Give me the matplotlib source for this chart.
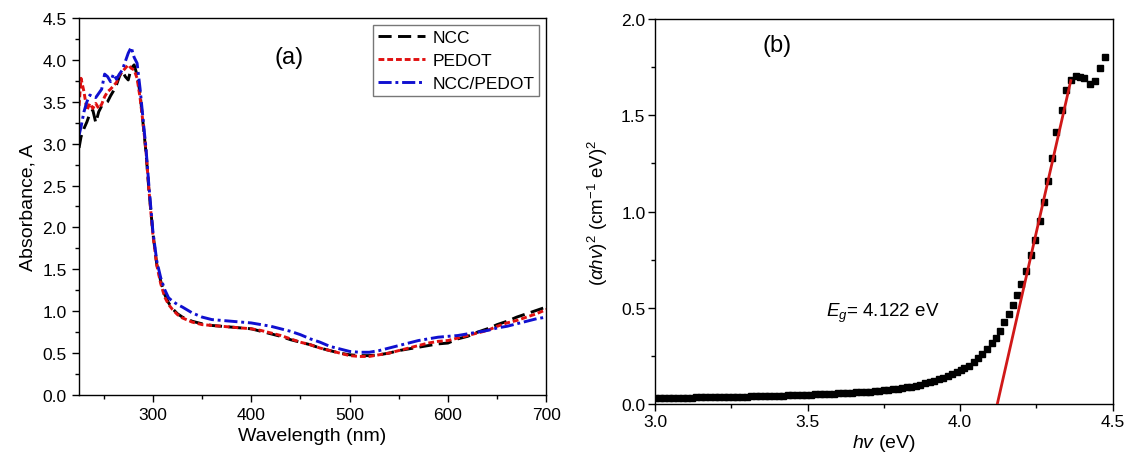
import matplotlib.pyplot as plt
from matplotlib.ticker import MultipleLocator

plt.rcParams['font.family'] = ['Liberation Sans', 'DejaVu Sans']
plt.rcParams['mathtext.fontset'] = 'custom'
plt.rcParams['mathtext.rm'] = 'Liberation Sans'
plt.rcParams['mathtext.it'] = 'Liberation Sans:italic'

# (a) UV-vis absorbance
wavelength = [225, 227, 230, 233, 236, 239, 242, 245, 248, 251, 254, 257, 260, 263,
              266, 269, 272, 275, 278, 281, 284, 287, 290, 293, 296, 300, 304, 308,
              312, 316, 320, 325, 330, 340, 350, 360, 370, 380, 390, 400, 410, 420,
              430, 440, 450, 460, 470, 480, 490, 500, 510, 520, 530, 540, 550, 560,
              570, 580, 590, 600, 610, 620, 630, 640, 650, 660, 670, 680, 690, 700]
abs_ncc = [2.95, 3.08, 3.18, 3.26, 3.36, 3.40, 3.25, 3.38, 3.45, 3.47, 3.50, 3.57, 3.63, 3.70,
           3.80, 3.87, 3.80, 3.76, 3.90, 3.94, 3.82, 3.60, 3.25, 2.90, 2.45, 1.94, 1.56, 1.36,
           1.20, 1.10, 1.03, 0.97, 0.93, 0.88, 0.85, 0.83, 0.82, 0.81, 0.80, 0.79, 0.76, 0.73,
           0.70, 0.66, 0.63, 0.60, 0.56, 0.53, 0.50, 0.48, 0.47, 0.47, 0.48, 0.50, 0.53, 0.55,
           0.57, 0.59, 0.61, 0.62, 0.67, 0.70, 0.75, 0.79, 0.84, 0.88, 0.93, 0.97, 1.01, 1.05]
abs_pedot = [3.45, 3.78, 3.62, 3.40, 3.48, 3.42, 3.48, 3.42, 3.47, 3.56, 3.62, 3.65, 3.69, 3.73,
             3.82, 3.86, 3.90, 3.94, 3.90, 3.88, 3.78, 3.55, 3.25, 2.92, 2.45, 1.92, 1.55, 1.33,
             1.17, 1.08, 1.02, 0.96, 0.92, 0.87, 0.84, 0.83, 0.82, 0.81, 0.80, 0.79, 0.77, 0.74,
             0.71, 0.67, 0.63, 0.60, 0.56, 0.53, 0.50, 0.47, 0.46, 0.46, 0.48, 0.50, 0.53, 0.56,
             0.59, 0.62, 0.64, 0.65, 0.68, 0.71, 0.74, 0.77, 0.82, 0.86, 0.89, 0.93, 0.97, 1.02]
abs_blend = [3.10, 3.20, 3.38, 3.50, 3.58, 3.56, 3.55, 3.60, 3.65, 3.83, 3.80, 3.74, 3.83, 3.77,
             3.83, 3.88, 3.98, 4.08, 4.15, 4.03, 3.96, 3.66, 3.30, 2.95, 2.50, 1.96, 1.60, 1.40,
             1.26, 1.16, 1.12, 1.08, 1.05, 0.98, 0.93, 0.90, 0.89, 0.88, 0.87, 0.86, 0.84, 0.82,
             0.79, 0.76, 0.72, 0.67, 0.63, 0.58, 0.55, 0.52, 0.51, 0.51, 0.53, 0.56, 0.59, 0.62,
             0.65, 0.67, 0.69, 0.70, 0.71, 0.73, 0.75, 0.77, 0.80, 0.82, 0.85, 0.88, 0.91, 0.93]

# (b) Tauc plot
energy = [3.000, 3.015, 3.030, 3.045, 3.060, 3.075, 3.090, 3.105, 3.120, 3.135, 3.150,
          3.165, 3.180, 3.195, 3.210, 3.225, 3.240, 3.255, 3.270, 3.285, 3.300, 3.315,
          3.330, 3.345, 3.360, 3.375, 3.390, 3.405, 3.420, 3.435, 3.450, 3.465, 3.480,
          3.495, 3.510, 3.525, 3.540, 3.555, 3.570, 3.585, 3.600, 3.615, 3.630, 3.645,
          3.660, 3.675, 3.690, 3.705, 3.720, 3.735, 3.750, 3.765, 3.780, 3.795, 3.810,
          3.825, 3.840, 3.855, 3.870, 3.885, 3.900, 3.915, 3.930, 3.945, 3.960, 3.975,
          3.990, 4.003, 4.014, 4.029, 4.044, 4.059, 4.073, 4.087, 4.103, 4.117, 4.130,
          4.144, 4.159, 4.173, 4.188, 4.201, 4.217, 4.231, 4.246, 4.261, 4.275, 4.289,
          4.302, 4.316, 4.333, 4.348, 4.363, 4.379, 4.393, 4.407, 4.426, 4.443, 4.459, 4.474]
tauc = [0.030, 0.030, 0.031, 0.031, 0.031, 0.032, 0.032, 0.033, 0.033, 0.034, 0.034,
        0.035, 0.035, 0.036, 0.036, 0.037, 0.037, 0.038, 0.038, 0.039, 0.039, 0.040,
        0.040, 0.041, 0.041, 0.042, 0.043, 0.043, 0.044, 0.045, 0.045, 0.046, 0.047,
        0.048, 0.049, 0.050, 0.051, 0.052, 0.053, 0.054, 0.055, 0.056, 0.057, 0.059,
        0.060, 0.062, 0.063, 0.065, 0.067, 0.069, 0.071, 0.074, 0.077, 0.080, 0.083,
        0.087, 0.091, 0.096, 0.101, 0.107, 0.113, 0.120, 0.128, 0.136, 0.146, 0.156,
        0.165, 0.175, 0.185, 0.199, 0.216, 0.237, 0.260, 0.286, 0.317, 0.345, 0.381,
        0.424, 0.468, 0.514, 0.566, 0.623, 0.693, 0.774, 0.854, 0.952, 1.051, 1.160,
        1.278, 1.415, 1.529, 1.633, 1.685, 1.705, 1.697, 1.692, 1.662, 1.679, 1.745, 1.804]
fit_x = [4.122, 4.363]
fit_y = [0.0, 1.68]

fig = plt.figure(figsize=(11.27, 4.56), dpi=100)

# Left panel
ax1 = fig.add_axes([0.0697, 0.1316, 0.4151, 0.8268])
ax1.plot(wavelength, abs_ncc, color='black', lw=2.1, dashes=(4.5, 2.2), label='NCC')
ax1.plot(wavelength, abs_pedot, color='#e01010', lw=2.1, dashes=(2.0, 1.0), label='PEDOT')
ax1.plot(wavelength, abs_blend, color='#1010d0', lw=2.1, dashes=(4.5, 1.3, 1.0, 1.3), label='NCC/PEDOT')
ax1.set_xlim(224.5, 700)
ax1.set_ylim(0, 4.5)
ax1.xaxis.set_major_locator(MultipleLocator(100))
ax1.xaxis.set_minor_locator(MultipleLocator(50))
ax1.yaxis.set_major_locator(MultipleLocator(0.5))
ax1.yaxis.set_minor_locator(MultipleLocator(0.25))
ax1.set_xlabel('Wavelength (nm)', fontsize=14, labelpad=4)
ax1.set_ylabel('Absorbance, A', fontsize=14, labelpad=4)
ax1.text(438, 4.04, '(a)', fontsize=17, ha='center', va='center')
leg = ax1.legend(loc='upper right', fontsize=12.5, frameon=True, fancybox=False,
                 edgecolor='#777777', framealpha=1, handlelength=2.7, handletextpad=0.4,
                 borderpad=0.3, labelspacing=0.45, borderaxespad=0.4)
leg.get_frame().set_linewidth(1.0)

# Right panel
ax2 = fig.add_axes([0.5813, 0.1118, 0.4059, 0.8443])
ax2.plot(energy, tauc, 's', color='black', ms=5, zorder=2)
ax2.plot(fit_x, fit_y, color='#d01818', lw=2, zorder=3)
ax2.set_xlim(3.0, 4.5)
ax2.set_ylim(0, 2.0)
ax2.xaxis.set_major_locator(MultipleLocator(0.5))
ax2.xaxis.set_minor_locator(MultipleLocator(0.25))
ax2.yaxis.set_major_locator(MultipleLocator(0.5))
ax2.yaxis.set_minor_locator(MultipleLocator(0.25))
ax2.set_xlabel('$hv$ (eV)', fontsize=14, labelpad=2)
ax2.set_ylabel(r'$(\alpha hv)^2$ (cm$^{-1}$ eV)$^2$', fontsize=13.5, labelpad=8)
ax2.text(3.40, 1.867, '(b)', fontsize=17, ha='center', va='center')
ax2.text(3.56, 0.476, '$E_g$= 4.122 eV', fontsize=13.5, ha='left', va='center')

for ax in [ax1, ax2]:
    ax.tick_params(which='both', direction='out', top=False, right=False, labelsize=12.5)
    ax.tick_params(which='major', length=5, width=1)
    ax.tick_params(which='minor', length=3, width=1)
    for side in ['bottom', 'left', 'top', 'right']:
        ax.spines[side].set_linewidth(1.0)
ax2.tick_params(which='major', pad=2)

plt.savefig('out.png', dpi=100)
